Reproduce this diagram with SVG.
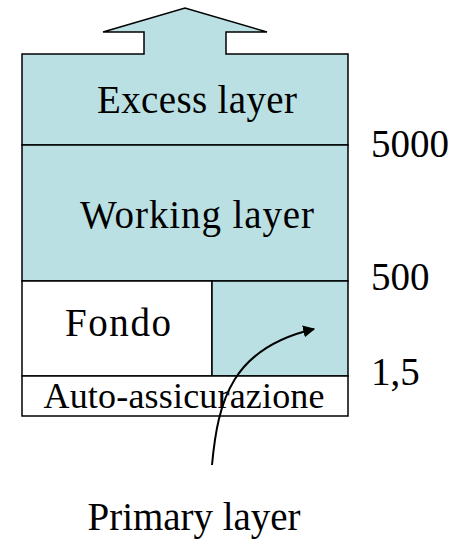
<svg xmlns="http://www.w3.org/2000/svg" width="466" height="540" viewBox="0 0 466 540">
<style>
.f{fill:#bae0e3;stroke:#000;stroke-width:1.5}
.w{fill:#fff;stroke:#000;stroke-width:1.5}
text{font-family:"Liberation Serif",serif;fill:#000}
.big{font-size:39px}
</style>
<defs>
<marker id="ah" viewBox="0 0 10 10" refX="9" refY="5" markerWidth="6" markerHeight="6" orient="auto">
<path d="M0,0 L10,5 L0,10 z" fill="#000"/>
</marker>
</defs>
<g id="excess">
<path class="f" d="M22,54 H144 V32 H103 L185,8 L267,32 H226 V54 H348 V145 H22 Z"/>
<text class="big" x="197" y="113" text-anchor="middle" textLength="200" font-family="Liberation Serif, serif">Excess layer</text>
</g>
<g id="working">
<rect class="f" x="22" y="145" width="326" height="136"/>
<text class="big" x="197" y="228" text-anchor="middle" textLength="234" font-family="Liberation Serif, serif">Working layer</text>
</g>
<g id="fondo">
<rect class="w" x="22" y="281" width="190" height="95"/>
<text class="big" x="118" y="336" text-anchor="middle" textLength="106" font-family="Liberation Serif, serif">Fondo</text>
</g>
<g id="primary">
<rect class="f" x="212" y="281" width="136" height="95"/>
</g>
<g id="auto">
<rect class="w" x="22" y="376" width="326" height="40"/>
<text x="184" y="408" text-anchor="middle" font-size="36" textLength="281" font-family="Liberation Serif, serif">Auto-assicurazione</text>
</g>
<g id="labels">
<text class="big" x="371" y="157" font-family="Liberation Serif, serif">5000</text>
<text class="big" x="371" y="290" font-family="Liberation Serif, serif">500</text>
<text class="big" x="371" y="385" font-family="Liberation Serif, serif">1,5</text>
<text class="big" x="194" y="530" text-anchor="middle" textLength="213" font-family="Liberation Serif, serif">Primary layer</text>
</g>
<g id="connectors">
<path d="M212,465 C218,400 232,348 314,329" fill="none" stroke="#000" stroke-width="2" marker-end="url(#ah)"/>
</g>
</svg>
